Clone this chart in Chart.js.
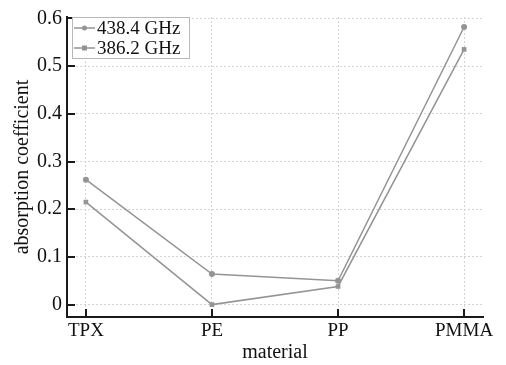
<!DOCTYPE html>
<html>
<head>
<meta charset="utf-8">
<script src="https://cdn.jsdelivr.net/npm/chart.js@4.4.0/dist/chart.umd.min.js"></script>
<style>
  html, body { margin: 0; padding: 0; background: #fff; }
  #wrap { width: 506px; height: 365px; }
</style>
</head>
<body>
<div id="wrap"><canvas id="chart" width="506" height="365"></canvas></div>
<script>
const materials = ['TPX', 'PE', 'PP', 'PMMA'];
const absorption438 = [0.262, 0.064, 0.050, 0.582];
const absorption386 = [0.215, 0.000, 0.038, 0.535];
const yTicks = [0, 0.1, 0.2, 0.3, 0.4, 0.5, 0.6];

const serif = '"Liberation Serif", "Times New Roman", serif';
const gray = '#949494';

function toPoints(arr) {
    return arr.map((v, i) => ({ x: i, y: v }));
}

// inward tick marks + legend box
const extras = {
    id: 'extras',
    afterDraw(chart) {
        const ctx = chart.ctx;
        const area = chart.chartArea;
        const xs = chart.scales.x, ys = chart.scales.y;
        ctx.save();
        ctx.strokeStyle = '#1a1a1a';
        ctx.lineWidth = 2;
        materials.forEach((m, i) => {
            const px = Math.round(xs.getPixelForValue(i));
            ctx.beginPath();
            ctx.moveTo(px, area.bottom);
            ctx.lineTo(px, area.bottom - 8);
            ctx.stroke();
        });
        yTicks.forEach(v => {
            const py = Math.round(ys.getPixelForValue(v));
            ctx.beginPath();
            ctx.moveTo(area.left, py);
            ctx.lineTo(area.left + 8, py);
            ctx.stroke();
        });

        // legend
        const lx = area.left + 5, ly = area.top, lw = 117, lh = 41;
        ctx.fillStyle = '#fff';
        ctx.fillRect(lx, ly, lw, lh);
        ctx.strokeStyle = '#b8b8b8';
        ctx.lineWidth = 1;
        ctx.strokeRect(lx + 0.5, ly + 0.5, lw, lh);
        ctx.font = '19px ' + serif;
        ctx.textBaseline = 'middle';
        chart.data.datasets.forEach((ds, k) => {
            const cy = ly + 11 + k * 20;
            ctx.strokeStyle = gray;
            ctx.lineWidth = 1.5;
            ctx.beginPath();
            ctx.moveTo(lx + 2, cy);
            ctx.lineTo(lx + 23, cy);
            ctx.stroke();
            ctx.fillStyle = gray;
            if (ds.pointStyle === 'rect') {
                ctx.fillRect(lx + 10, cy - 2.5, 5, 5);
            } else {
                ctx.beginPath();
                ctx.arc(lx + 12.5, cy, 2.5, 0, Math.PI * 2);
                ctx.fill();
            }
            ctx.fillStyle = '#111';
            ctx.fillText(ds.label, lx + 25, cy + 1);
        });
        ctx.restore();
    }
};

new Chart(document.getElementById('chart'), {
    type: 'line',
    data: {
        datasets: [{
            label: '438.4 GHz',
            data: toPoints(absorption438),
            borderColor: gray,
            backgroundColor: gray,
            borderWidth: 1.5,
            pointStyle: 'circle',
            pointRadius: 3,
            pointBorderWidth: 0
        }, {
            label: '386.2 GHz',
            data: toPoints(absorption386),
            borderColor: gray,
            backgroundColor: gray,
            borderWidth: 1.5,
            pointStyle: 'rect',
            pointRadius: 3.3,
            pointBorderWidth: 0
        }]
    },
    options: {
        responsive: false,
        animation: false,
        layout: { padding: { top: 13, right: 23, left: 0, bottom: 0 } },
        plugins: { legend: { display: false }, tooltip: { enabled: false } },
        scales: {
            x: {
                type: 'linear',
                min: -0.15,
                max: 3.15,
                afterBuildTicks: s => { s.ticks = materials.map((m, i) => ({ value: i })); },
                afterFit: s => { s.height = 48; },
                ticks: {
                    callback: v => materials[v],
                    color: '#111',
                    font: { family: serif, size: 19 },
                    padding: 3,
                    maxRotation: 0
                },
                grid: { color: '#d4d4d4', lineWidth: 1, drawTicks: false },
                border: { display: true, color: '#1a1a1a', width: 2, dash: [2, 2] },
                title: {
                    display: true,
                    text: 'material',
                    color: '#111',
                    font: { family: serif, size: 20 },
                    padding: { top: -4, bottom: 0 }
                }
            },
            y: {
                min: -0.026,
                max: 0.603,
                afterBuildTicks: s => { s.ticks = yTicks.map(v => ({ value: v })); },
                afterFit: s => { s.width = 67; },
                ticks: {
                    callback: v => v === 0 ? '0' : v.toFixed(1),
                    color: '#111',
                    font: { family: serif, size: 20 },
                    padding: 5
                },
                grid: { color: '#d4d4d4', lineWidth: 1, drawTicks: false },
                border: { display: true, color: '#1a1a1a', width: 2, dash: [2, 2] },
                title: {
                    display: true,
                    text: 'absorption coefficient',
                    color: '#111',
                    font: { family: serif, size: 20 },
                    padding: { top: 11, bottom: 0 }
                }
            }
        }
    },
    plugins: [extras]
});
</script>
</body>
</html>
